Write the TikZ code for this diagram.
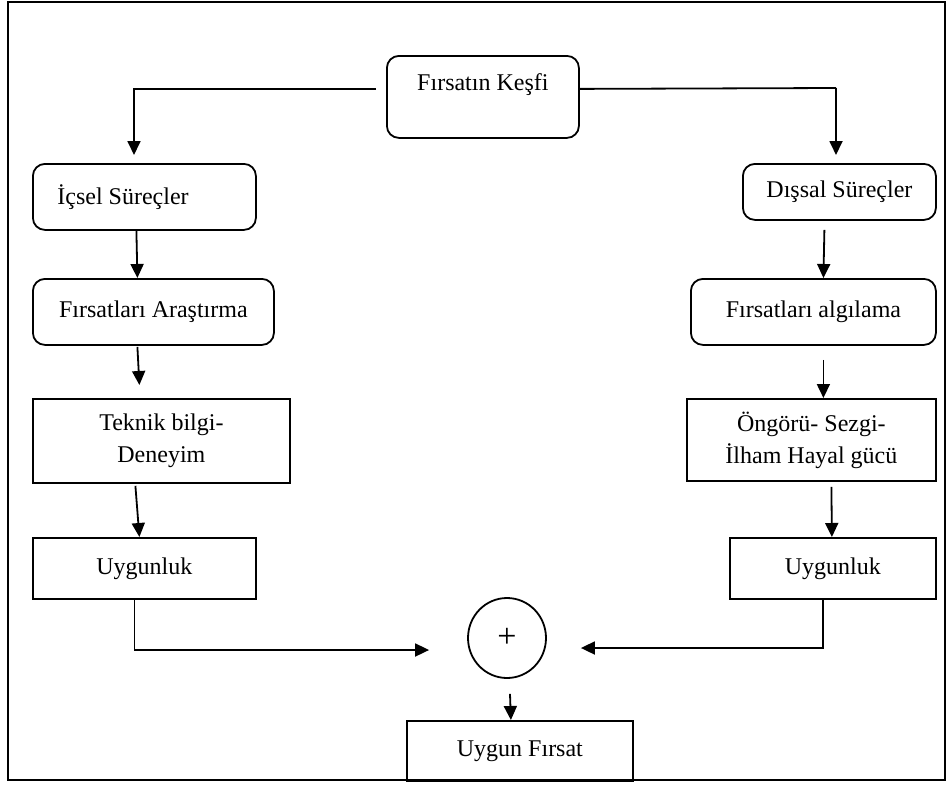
\documentclass[tikz,border=0pt]{standalone}
\usepackage{fontspec}
\setmainfont{Liberation Serif}
\usetikzlibrary{arrows.meta,shapes.geometric,calc}
\begin{document}
\begin{tikzpicture}[x=0.5pt,y=-0.5pt,
 box/.style={draw,line width=0.9pt,anchor=north west,inner sep=0pt,align=center,font=\fontsize{12}{16}\selectfont},
 rbox/.style={box,rounded corners=6pt},
 arr/.style={line width=0.9pt,-{Triangle[length=7pt,width=6.5pt]}},
 ln/.style={line width=0.9pt}]
\useasboundingbox (0,0) rectangle (947,787);
\draw[ln] (8,2) rectangle (945,780);

\node[rbox,minimum width=96pt,minimum height=41pt,text height=17.5pt,text depth=23.5pt] (top) at (386,55) {Fırsatın Keşfi};

\node[rbox,minimum width=111.5pt,minimum height=33pt] (ic) at (32,163) {\makebox[87pt][l]{İçsel Süreçler}};
\node[rbox,minimum width=120.5pt,minimum height=33pt] (fa) at (32,278) {Fırsatları Araştırma};
\node[box,minimum width=128.5pt,minimum height=42pt] (tb) at (32,398) {Teknik bilgi-\\Deneyim};
\node[box,minimum width=111.5pt,minimum height=30.5pt] (ul) at (32,537) {Uygunluk};

\node[rbox,minimum width=96.5pt,minimum height=28pt] (ds) at (742,163) {Dışsal Süreçler};
\node[rbox,minimum width=122.5pt,minimum height=33pt] (fal) at (690,278) {Fırsatları algılama};
\node[box,minimum width=124.5pt,minimum height=41pt] (og) at (686,398) {Öngörü- Sezgi-\\İlham Hayal gücü};
\node[box,minimum width=103pt,minimum height=30.5pt] (ur) at (729,537) {Uygunluk};

\node[ellipse,draw,line width=0.9pt,inner sep=0pt,minimum width=39pt,minimum height=40pt,font=\fontsize{17}{20}\selectfont] (circ) at (507,638) {+};
\node[box,minimum width=113pt,minimum height=30pt] (uf) at (406,720) {Uygun Fırsat};

% top branches
\coordinate (tl) at ($(top.west)+(-10,-8)$);
\coordinate (tlc) at (134,88);
\coordinate (trc) at (836,88);
\draw[arr,shorten >=4pt] (tl) -| (ic.north -| tlc);
\draw[ln] (top.east |- tl) -- (trc);
\draw[arr,shorten >=4pt] (trc) -- (ds.north -| trc);

% left chain
\draw[arr] ($(ic.south)+(-8,0)$) -- ($(fa.north)+(-16,0)$);
\draw[arr] ($(fa.south)+(-16,1)$) -- ($(tb.north)+(-22,-13)$);
\draw[arr] ($(tb.south)+(-26,2)$) -- ($(ul.north)+(-5,0)$);
\draw[arr] ($(ul.south)+(-10,0)$) |- ($(circ.west)+(-38,12)$);

% right chain
\draw[arr] ($(ds.south)+(-15,9)$) -- ($(fal.north)+(10,0)$);
\draw[arr] ($(fal.south)+(10,14)$) -- ($(og.north)+(12,0)$);
\draw[arr] ($(og.south)+(20,5)$) -- ($(ur.north)+(-1,0)$);
\draw[arr] ($(ur.south)+(-10,0)$) |- ($(circ.east)+(34,10)$);

% bottom
\draw[arr] ($(circ.south)+(3,15)$) -- ($(uf.north)+(-9,0)$);
\end{tikzpicture}
\end{document}
